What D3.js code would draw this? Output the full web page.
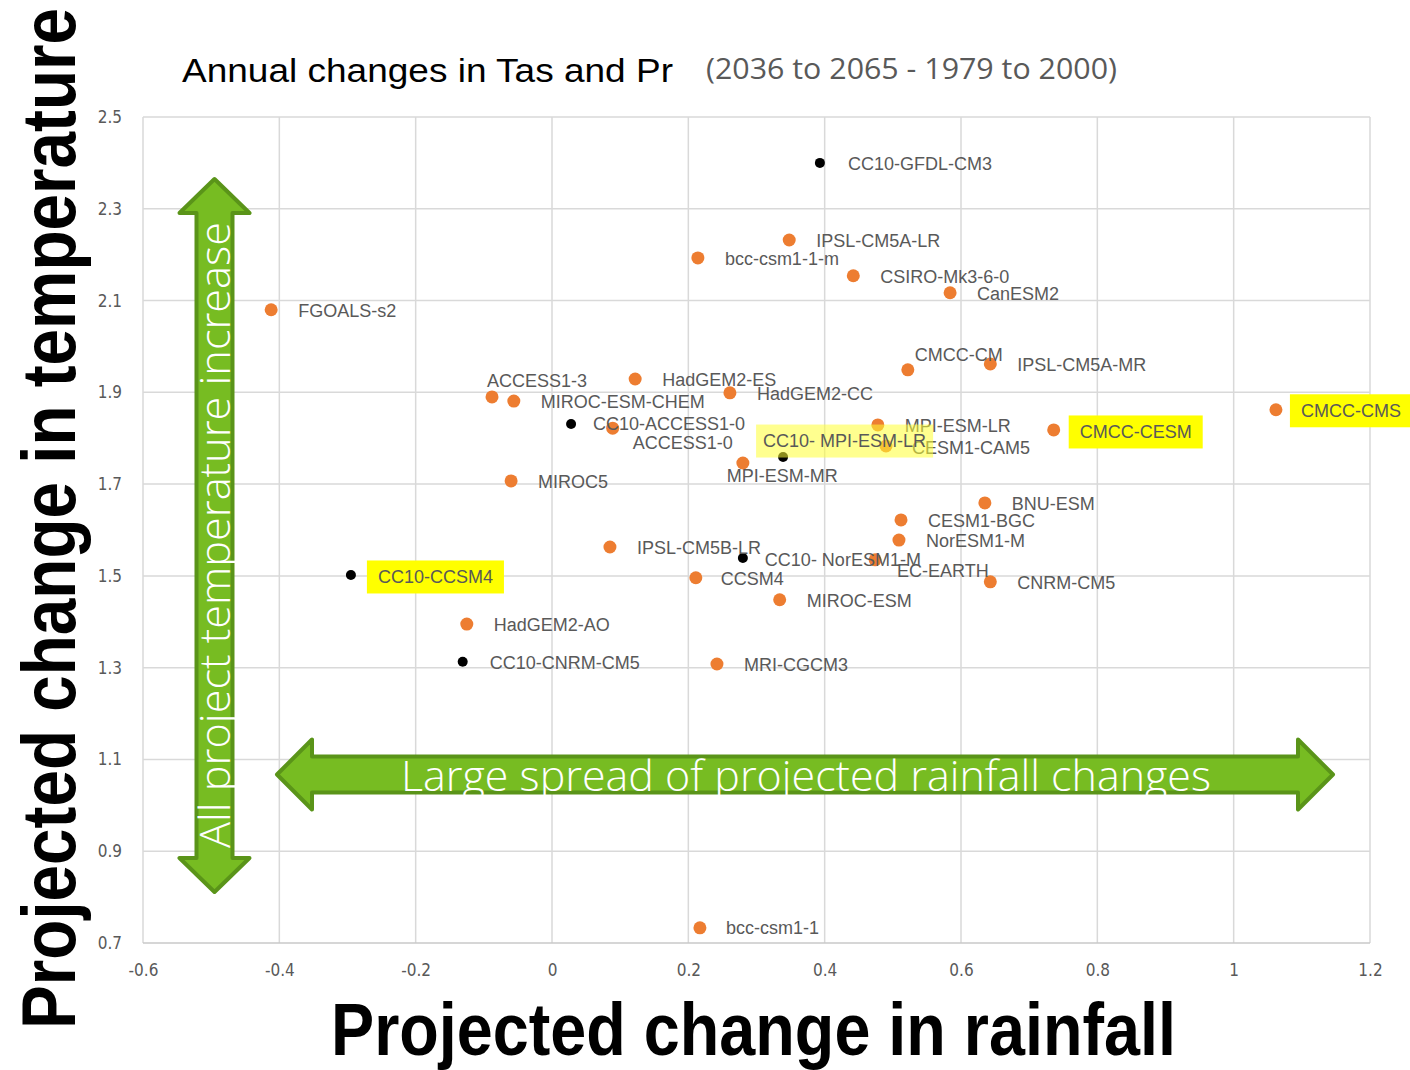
<!DOCTYPE html>
<html>
<head>
<meta charset="utf-8">
<script src="https://cdn.jsdelivr.net/npm/d3@7"></script>
<style>
  html, body { margin: 0; padding: 0; background: #ffffff; }
  svg { display: block; }
</style>
</head>
<body>
<svg id="chart" width="1410" height="1070"></svg>
<script>
// CMIP5 GCMs: annual change in precipitation (x) and temperature (y)
const gcmNames = [
  "IPSL-CM5A-LR", "bcc-csm1-1-m", "CSIRO-Mk3-6-0", "CanESM2", "FGOALS-s2",
  "CMCC-CM", "IPSL-CM5A-MR", "HadGEM2-ES", "HadGEM2-CC", "ACCESS1-3",
  "MIROC-ESM-CHEM", "ACCESS1-0", "MPI-ESM-LR", "CESM1-CAM5", "CMCC-CESM",
  "CMCC-CMS", "MPI-ESM-MR", "MIROC5", "BNU-ESM", "CESM1-BGC",
  "NorESM1-M", "EC-EARTH", "IPSL-CM5B-LR", "CCSM4", "CNRM-CM5",
  "MIROC-ESM", "HadGEM2-AO", "MRI-CGCM3", "bcc-csm1-1"
];
const gcmPr = [
  0.348, 0.214, 0.442, 0.584, -0.412,
  0.522, 0.643, 0.122, 0.261, -0.088,
  -0.056, 0.089, 0.478, 0.490, 0.736,
  1.062, 0.280, -0.060, 0.635, 0.512,
  0.509, 0.474, 0.085, 0.211, 0.643,
  0.334, -0.125, 0.242, 0.217
];
const gcmTas = [
  2.232, 2.193, 2.154, 2.117, 2.080,
  1.949, 1.962, 1.929, 1.899, 1.890,
  1.881, 1.822, 1.829, 1.783, 1.818,
  1.862, 1.746, 1.707, 1.659, 1.622,
  1.578, 1.535, 1.563, 1.496, 1.487,
  1.448, 1.395, 1.308, 0.733
];

// CC10 downscaled runs
const cc10Names = [
  "CC10-GFDL-CM3", "CC10-ACCESS1-0", "CC10- MPI-ESM-LR",
  "CC10- NorESM1-M", "CC10-CCSM4", "CC10-CNRM-CM5"
];
const cc10Pr  = [0.393, 0.028, 0.339, 0.280, -0.295, -0.131];
const cc10Tas = [2.400, 1.831, 1.759, 1.539, 1.502, 1.313];

// Axis ticks
const xTicks = [-0.6, -0.4, -0.2, 0, 0.2, 0.4, 0.6, 0.8, 1, 1.2];
const xTickLabels = ["-0.6", "-0.4", "-0.2", "0", "0.2", "0.4", "0.6", "0.8", "1", "1.2"];
const yTicks = [0.7, 0.9, 1.1, 1.3, 1.5, 1.7, 1.9, 2.1, 2.3, 2.5];
const yTickLabels = ["0.7", "0.9", "1.1", "1.3", "1.5", "1.7", "1.9", "2.1", "2.3", "2.5"];

// Texts
const titleMain = "Annual changes in Tas and Pr";
const titleSub = "(2036 to 2065 - 1979 to 2000)";
const xTitle = "Projected change in rainfall";
const yTitle = "Projected change in temperature";
const hArrowText = "Large spread of projected rainfall changes";
const vArrowText = "All project temperature increase";

// Labels drawn on a yellow highlight
const highlighted = ["CMCC-CESM", "CMCC-CMS", "CC10-CCSM4", "CC10- MPI-ESM-LR"];

// Label placement (pixel offset of label start from its marker)
const labelOffsetDefault = [27, 1];
const labelOffset = {
  "CC10-GFDL-CM3": [28, 1],
  "CMCC-CM": [7, -15],
  "ACCESS1-3": [-5, -16],
  "CC10-ACCESS1-0": [22, 0],
  "ACCESS1-0": [20, 15],
  "CESM1-CAM5": [26, 2],
  "CC10- MPI-ESM-LR": [-20, -16],
  "MPI-ESM-MR": [-16, 13],
  "CC10- NorESM1-M": [22, 2],
  "EC-EARTH": [22, 11],
  "CCSM4": [25, 1],
  "CMCC-CESM": [26, 2],
  "CMCC-CMS": [25, 1],
  "CC10-CCSM4": [27, 2],
  "bcc-csm1-1": [26, 0]
};

const svg = d3.select("#chart");
const x = d3.scaleLinear().domain([-0.6, 1.2]).range([143, 1370]);
const y = d3.scaleLinear().domain([0.7, 2.5]).range([943, 117]);

const gridColor = "#d9d9d9";
const labelColor = "#595959";

// Gridlines
const grid = svg.append("g");
grid.selectAll("line.vx").data(xTicks).join("line")
  .attr("x1", d => x(d)).attr("x2", d => x(d))
  .attr("y1", y(2.5)).attr("y2", y(0.7))
  .attr("stroke", gridColor).attr("stroke-width", 1.5);
grid.selectAll("line.hy").data(yTicks).join("line")
  .attr("y1", d => y(d)).attr("y2", d => y(d))
  .attr("x1", x(-0.6)).attr("x2", x(1.2))
  .attr("stroke", d => d === 0.7 ? "#c8c8c8" : gridColor).attr("stroke-width", 1.5);

// Axes (labels only)
const tickFont = "'Liberation Sans Narrow', 'DejaVu Sans Condensed', sans-serif";
const xAxis = d3.axisBottom(x).tickValues(xTicks)
  .tickFormat((d, i) => xTickLabels[i]).tickSize(0).tickPadding(21);
const gx = svg.append("g").attr("transform", `translate(0,${y(0.7)})`).call(xAxis);
gx.select(".domain").remove();
gx.selectAll("text")
  .attr("fill", labelColor)
  .style("font-family", tickFont)
  .style("font-size", "17px");

const yAxis = d3.axisLeft(y).tickValues(yTicks)
  .tickFormat((d, i) => yTickLabels[i]).tickSize(0).tickPadding(21);
const gy = svg.append("g").attr("transform", `translate(${x(-0.6)},0)`).call(yAxis);
gy.select(".domain").remove();
gy.selectAll("text")
  .attr("fill", labelColor)
  .style("font-family", tickFont)
  .style("font-size", "17px");

// Points
const points = [];
gcmNames.forEach((n, i) => points.push({ name: n, pr: gcmPr[i], tas: gcmTas[i], cc10: false }));
cc10Names.forEach((n, i) => points.push({ name: n, pr: cc10Pr[i], tas: cc10Tas[i], cc10: true }));

const labelFont = "'Liberation Sans', Arial, sans-serif";

// Solid highlight boxes sit under the labels; the translucent one sits above the marks
const boxLayer = svg.append("g");
const markLayer = svg.append("g");
const labelLayer = svg.append("g");
const overlayLayer = svg.append("g");

markLayer.selectAll("circle").data(points).join("circle")
  .attr("cx", d => x(d.pr))
  .attr("cy", d => y(d.tas))
  .attr("r", d => d.cc10 ? 5 : 6.5)
  .attr("fill", d => d.cc10 ? "#000000" : "#ed7d31");

const labels = labelLayer.selectAll("text").data(points).join("text")
  .attr("x", d => x(d.pr) + (labelOffset[d.name] || labelOffsetDefault)[0])
  .attr("y", d => y(d.tas) + (labelOffset[d.name] || labelOffsetDefault)[1])
  .attr("dominant-baseline", "central")
  .attr("fill", labelColor)
  .style("font-family", labelFont)
  .style("font-size", "18px")
  .text(d => d.name);

labels.each(function (d) {
  if (!highlighted.includes(d.name)) return;
  const b = this.getBBox();
  const translucent = d.name === "CC10- MPI-ESM-LR";
  const padX = translucent ? 7 : 11;
  (translucent ? overlayLayer : boxLayer).append("rect")
    .attr("x", b.x - padX)
    .attr("y", b.y + b.height / 2 - 16.5)
    .attr("width", b.width + padX * 2)
    .attr("height", 33)
    .attr("fill", translucent ? "#ffff33" : "#ffff00")
    .attr("fill-opacity", translucent ? 0.55 : 1);
});
// keep the translucent label above its box
labels.filter(d => d.name === "CC10- MPI-ESM-LR").each(function () {
  overlayLayer.node().appendChild(this);
});

// Arrow shapes
const arrowFill = "#77bc22";
const arrowStroke = "#5a9419";

function vArrow(cx, top, bottom, shaftW, headW, headL) {
  const s = shaftW / 2, h = headW / 2;
  return [
    [cx, top], [cx + h, top + headL], [cx + s, top + headL],
    [cx + s, bottom - headL], [cx + h, bottom - headL], [cx, bottom],
    [cx - h, bottom - headL], [cx - s, bottom - headL],
    [cx - s, top + headL], [cx - h, top + headL]
  ];
}
function hArrow(cy, left, right, shaftW, headW, headL) {
  const s = shaftW / 2, h = headW / 2;
  return [
    [left, cy], [left + headL, cy - h], [left + headL, cy - s],
    [right - headL, cy - s], [right - headL, cy - h], [right, cy],
    [right - headL, cy + h], [right - headL, cy + s],
    [left + headL, cy + s], [left + headL, cy + h]
  ];
}
const line = d3.line().curve(d3.curveLinearClosed);

const arrows = svg.append("g");
arrows.append("path")
  .attr("d", line(vArrow(214.5, 179, 892, 36, 70, 34)))
  .attr("fill", arrowFill).attr("stroke", arrowStroke)
  .attr("stroke-width", 4).attr("stroke-linejoin", "round");
arrows.append("path")
  .attr("d", line(hArrow(774.5, 277, 1333, 36, 70, 35)))
  .attr("fill", arrowFill).attr("stroke", arrowStroke)
  .attr("stroke-width", 4).attr("stroke-linejoin", "round");

const arrowFont = "'Open Sans', 'Lato', sans-serif";
arrows.append("text")
  .attr("transform", "translate(230,848) rotate(-90)")
  .attr("fill", "#ffffff")
  .style("font-family", arrowFont)
  .style("font-weight", 300)
  .style("font-size", "43px")
  .attr("textLength", 626)
  .attr("lengthAdjust", "spacingAndGlyphs")
  .text(vArrowText);
arrows.append("text")
  .attr("x", 401).attr("y", 791)
  .attr("fill", "#ffffff")
  .style("font-family", arrowFont)
  .style("font-weight", 300)
  .style("font-size", "43px")
  .attr("textLength", 810)
  .attr("lengthAdjust", "spacingAndGlyphs")
  .text(hArrowText);

// Titles
svg.append("text")
  .attr("x", 182).attr("y", 82)
  .attr("fill", "#000000")
  .style("font-family", "'Liberation Sans', Arial, sans-serif")
  .style("font-size", "34px")
  .attr("textLength", 491)
  .attr("lengthAdjust", "spacingAndGlyphs")
  .text(titleMain);
svg.append("text")
  .attr("x", 706).attr("y", 79)
  .attr("fill", labelColor)
  .style("font-family", "'Open Sans', 'Liberation Sans', sans-serif")
  .style("font-size", "29px")
  .attr("textLength", 411)
  .attr("lengthAdjust", "spacingAndGlyphs")
  .text(titleSub);

// Large axis titles: bold sans squeezed to a narrow cut
const bigFont = "'Liberation Sans', Arial, sans-serif";
svg.append("text")
  .attr("x", 331).attr("y", 1055)
  .attr("fill", "#000000")
  .style("font-family", bigFont)
  .style("font-weight", "bold")
  .style("font-size", "74px")
  .attr("textLength", 845)
  .attr("lengthAdjust", "spacingAndGlyphs")
  .text(xTitle);
svg.append("text")
  .attr("transform", "translate(75,1029) rotate(-90)")
  .attr("fill", "#000000")
  .style("font-family", bigFont)
  .style("font-weight", "bold")
  .style("font-size", "76px")
  .attr("textLength", 1021)
  .attr("lengthAdjust", "spacingAndGlyphs")
  .text(yTitle);
</script>
</body>
</html>
